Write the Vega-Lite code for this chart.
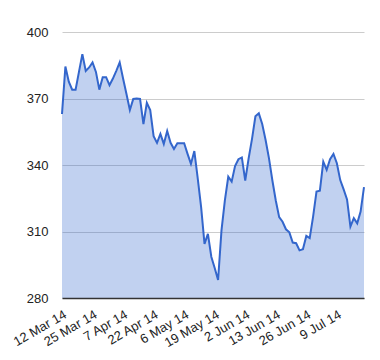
{
  "$schema": "https://vega.github.io/schema/vega-lite/v6.json",
  "width": 302,
  "height": 266,
  "autosize": {"type": "none"},
  "padding": {"left": 62, "top": 32, "right": 16, "bottom": 62},
  "background": "white",
  "config": {
    "view": {"stroke": null},
    "font": "Liberation Sans",
    "axis": {"labelFont": "Liberation Sans", "labelFontSize": 13, "labelColor": "#222222"}
  },
  "data": {"values": [
    {"date": "12 Mar 14", "value": 363},
    {"date": "13 Mar 14", "value": 384.4},
    {"date": "14 Mar 14", "value": 377.6},
    {"date": "17 Mar 14", "value": 374},
    {"date": "18 Mar 14", "value": 374},
    {"date": "19 Mar 14", "value": 382},
    {"date": "20 Mar 14", "value": 390},
    {"date": "21 Mar 14", "value": 382.4},
    {"date": "24 Mar 14", "value": 384},
    {"date": "25 Mar 14", "value": 386.3},
    {"date": "26 Mar 14", "value": 382},
    {"date": "27 Mar 14", "value": 374},
    {"date": "28 Mar 14", "value": 379.6},
    {"date": "31 Mar 14", "value": 379.6},
    {"date": "1 Apr 14", "value": 376},
    {"date": "2 Apr 14", "value": 379},
    {"date": "3 Apr 14", "value": 382.5},
    {"date": "4 Apr 14", "value": 386.3},
    {"date": "7 Apr 14", "value": 379},
    {"date": "8 Apr 14", "value": 372},
    {"date": "9 Apr 14", "value": 364.8},
    {"date": "10 Apr 14", "value": 369.8},
    {"date": "11 Apr 14", "value": 370},
    {"date": "14 Apr 14", "value": 369.8},
    {"date": "15 Apr 14", "value": 358.5},
    {"date": "16 Apr 14", "value": 368},
    {"date": "17 Apr 14", "value": 364.8},
    {"date": "22 Apr 14", "value": 353},
    {"date": "23 Apr 14", "value": 350},
    {"date": "24 Apr 14", "value": 354},
    {"date": "25 Apr 14", "value": 349.5},
    {"date": "28 Apr 14", "value": 355.3},
    {"date": "29 Apr 14", "value": 350},
    {"date": "30 Apr 14", "value": 347.2},
    {"date": "1 May 14", "value": 349.8},
    {"date": "2 May 14", "value": 349.8},
    {"date": "6 May 14", "value": 349.8},
    {"date": "7 May 14", "value": 345},
    {"date": "8 May 14", "value": 340.5},
    {"date": "9 May 14", "value": 346.3},
    {"date": "12 May 14", "value": 334},
    {"date": "13 May 14", "value": 321},
    {"date": "14 May 14", "value": 304.4},
    {"date": "15 May 14", "value": 308.9},
    {"date": "16 May 14", "value": 298.6},
    {"date": "19 May 14", "value": 293.5},
    {"date": "20 May 14", "value": 288.1},
    {"date": "21 May 14", "value": 310.5},
    {"date": "22 May 14", "value": 324},
    {"date": "23 May 14", "value": 334.7},
    {"date": "27 May 14", "value": 332.5},
    {"date": "28 May 14", "value": 339.5},
    {"date": "29 May 14", "value": 342.6},
    {"date": "30 May 14", "value": 343.4},
    {"date": "2 Jun 14", "value": 333},
    {"date": "3 Jun 14", "value": 343},
    {"date": "4 Jun 14", "value": 351.8},
    {"date": "5 Jun 14", "value": 362},
    {"date": "6 Jun 14", "value": 363.3},
    {"date": "9 Jun 14", "value": 358.5},
    {"date": "10 Jun 14", "value": 351.3},
    {"date": "11 Jun 14", "value": 343},
    {"date": "12 Jun 14", "value": 333},
    {"date": "13 Jun 14", "value": 324},
    {"date": "16 Jun 14", "value": 316.5},
    {"date": "17 Jun 14", "value": 314.4},
    {"date": "18 Jun 14", "value": 311},
    {"date": "19 Jun 14", "value": 309.6},
    {"date": "20 Jun 14", "value": 305},
    {"date": "23 Jun 14", "value": 304.7},
    {"date": "24 Jun 14", "value": 301.5},
    {"date": "25 Jun 14", "value": 302},
    {"date": "26 Jun 14", "value": 308},
    {"date": "27 Jun 14", "value": 307},
    {"date": "30 Jun 14", "value": 316.7},
    {"date": "1 Jul 14", "value": 328},
    {"date": "2 Jul 14", "value": 328.4},
    {"date": "3 Jul 14", "value": 341.5},
    {"date": "4 Jul 14", "value": 337.8},
    {"date": "7 Jul 14", "value": 342.6},
    {"date": "8 Jul 14", "value": 345},
    {"date": "9 Jul 14", "value": 340.8},
    {"date": "10 Jul 14", "value": 333.2},
    {"date": "11 Jul 14", "value": 329},
    {"date": "14 Jul 14", "value": 324.5},
    {"date": "15 Jul 14", "value": 312.2},
    {"date": "16 Jul 14", "value": 316},
    {"date": "17 Jul 14", "value": 313.7},
    {"date": "18 Jul 14", "value": 319},
    {"date": "21 Jul 14", "value": 330}
  ]},
  "encoding": {
    "x": {
      "field": "date",
      "type": "ordinal",
      "sort": null,
      "scale": {"type": "point", "padding": 0},
      "axis": {
        "title": null,
        "values": ["12 Mar 14", "25 Mar 14", "7 Apr 14", "22 Apr 14", "6 May 14", "19 May 14", "2 Jun 14", "13 Jun 14", "26 Jun 14", "9 Jul 14"],
        "labelAngle": -30,
        "labelAlign": "right",
        "labelBaseline": "top",
        "labelPadding": 10,
        "ticks": false,
        "grid": false,
        "domain": true,
        "domainColor": "#333333",
        "domainWidth": 1.5,
        "labelOverlap": false,
        "zindex": 1
      }
    },
    "y": {
      "field": "value",
      "type": "quantitative",
      "scale": {"domain": [280, 400], "zero": false, "nice": false},
      "axis": {
        "title": null,
        "values": [280, 310, 340, 370, 400],
        "grid": true,
        "gridColor": "#cccccc",
        "domain": false,
        "ticks": false,
        "labelPadding": 14
      }
    }
  },
  "layer": [
    {"mark": {"type": "area", "color": "#3366cc", "opacity": 0.3, "clip": true}},
    {"mark": {"type": "line", "color": "#3366cc", "strokeWidth": 2}}
  ]
}
